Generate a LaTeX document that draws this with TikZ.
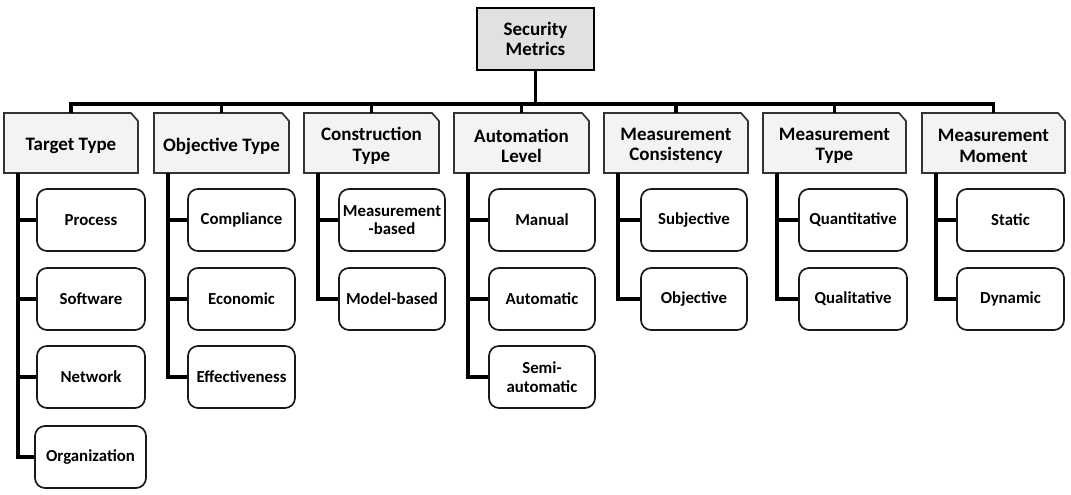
\documentclass[tikz,border=0pt]{standalone}
\usepackage{fontspec}
\setmainfont{Carlito}
\usetikzlibrary{calc}
\definecolor{rootfill}{HTML}{E1E1E1}
\definecolor{catfill}{HTML}{F3F3F3}
\definecolor{catedge}{HTML}{333333}
\newcommand\catbox[4]{%
  \draw[catline] (#2,113) -- (#3-7,113) -- (#3,121) -- (#3,173) -- (#2,173) -- cycle;
  \node[cattext,minimum width={(#3-#2)*1pt}] (#1) at ({(#2+#3)/2},146) {#4};}
\begin{document}
\begin{tikzpicture}[x=1pt,y=-1pt,
  rootbox/.style={draw=black,line width=2.6pt,fill=rootfill,minimum width=117pt,minimum height=62pt,inner sep=0pt,align=center,font=\bfseries\fontsize{19}{20.5}\selectfont},
  catline/.style={draw=catedge,line width=1.7pt,fill=catfill,line join=miter},
  cattext/.style={minimum height=54pt,inner sep=0pt,align=center,font=\bfseries\fontsize{19}{20.5}\selectfont},
  leaf/.style={draw=black!90,line width=1.7pt,rounded corners=10pt,fill=white,minimum height=62pt,inner sep=0pt,align=center,font=\bfseries\fontsize{16.8}{18.5}\selectfont},
  conn/.style={line width=3.6pt,black,line join=miter}]
\useasboundingbox (0,0) rectangle (1071,495);
\node[rootbox] (root) at (535.5,39) {Security\\Metrics};
\catbox{c1}{4}{138}{Target Type}
\catbox{c2}{154}{289}{Objective Type}
\catbox{c3}{304}{439}{Construction\\Type}
\catbox{c4}{454}{589}{Automation\\Level}
\catbox{c5}{604}{748}{Measurement\\Consistency}
\catbox{c6}{763}{906}{Measurement\\Type}
\catbox{c7}{922}{1065}{Measurement\\Moment}
\coordinate (bus) at (0,104);
\coordinate (cattop) at (0,113);
\coordinate (catbot) at (0,173);
% bus
\draw[conn] (root.south) -- (root.south |- bus);
\draw[conn] (c1.north |- cattop) -- (c1.north |- bus) -- (c7.north |- bus) -- (c7.north |- cattop);
\foreach \c in {c2,c3,c4,c5,c6}{\draw[conn] (\c.north |- bus) -- (\c.north |- cattop);}
% leaves
\foreach \n/\x/\w/\y/\t in {
  c1a/91/108/220/Process, c1b/91/108/299/Software, c1c/91/108/377/Network, c1d/90.5/111/457/Organization,
  c2a/241.5/107/220/Compliance, c2b/241.5/107/299/Economic, c2c/241.5/107/377/Effectiveness,
  c3a/392/106/220/{Measurement\\-based}, c3b/392/106/299/Model-based,
  c4a/542/106/220/Manual, c4b/542/106/299/Automatic, c4c/542/106/377/{Semi-\\automatic},
  c5a/694/106/220/Subjective, c5b/694/106/299/Objective,
  c6a/853/108/220/Quantitative, c6b/853/108/299/Qualitative,
  c7a/1010.5/107/220/Static, c7b/1010.5/107/299/Dynamic}
  {\node[leaf,minimum width=\w pt] (\n) at (\x,\y) {\t};}
% trunks
\foreach \c/\last in {c1/c1d,c2/c2c,c3/c3b,c4/c4c,c5/c5b,c6/c6b,c7/c7b}
  {\draw[conn] ([xshift=14pt]\c.south west |- catbot) |- (\last.west);}
\foreach \c/\k in {c1/c1a,c1/c1b,c1/c1c,c2/c2a,c2/c2b,c3/c3a,c4/c4a,c4/c4b,c5/c5a,c6/c6a,c7/c7a}
  {\draw[conn] ([xshift=14pt]\c.south west |- \k.west) -- (\k.west);}
\end{tikzpicture}
\end{document}
